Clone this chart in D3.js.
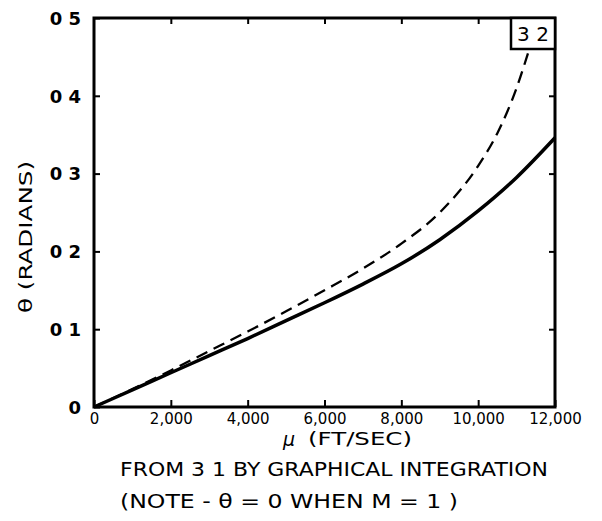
<!DOCTYPE html>
<html>
<head>
<meta charset="utf-8">
<script src="https://cdn.jsdelivr.net/npm/d3@7"></script>
<style>
body { margin: 0; background: #fff; }
svg text { font-family: "DejaVu Sans", sans-serif; fill: #000; }
</style>
</head>
<body>
<svg id="chart" width="602" height="521"></svg>
<script>
// velocity u (ft/sec) and theta (radians)
var solidU = [0, 1000, 2000, 3000, 4000, 5000, 6000, 7000, 8000, 9000, 10000, 11000, 12000];
var solidTheta = [0, 0.022, 0.044, 0.066, 0.088, 0.111, 0.134, 0.158, 0.184, 0.215, 0.252, 0.295, 0.346];

var dashU = [0, 1000, 2000, 3000, 4000, 5000, 6000, 7000, 8000, 9000, 10000, 10500, 11000, 11330];
var dashTheta = [0, 0.023, 0.047, 0.072, 0.097, 0.123, 0.150, 0.178, 0.210, 0.250, 0.310, 0.352, 0.41, 0.46];

var xTicks = [0, 2000, 4000, 6000, 8000, 10000, 12000];
var yTicks = [0, 0.1, 0.2, 0.3, 0.4, 0.5];

var svg = d3.select("#chart");
var plotL = 94, plotR = 555, plotT = 18, plotB = 407;

var x = d3.scaleLinear().domain([0, 12000]).range([plotL, plotR]);
var y = d3.scaleLinear().domain([0, 0.5]).range([plotB, plotT]);

var yFmt = function(d){ return d === 0 ? "0" : "0 " + Math.round(d * 10); };

// left axis
var gl = svg.append("g").attr("transform", "translate(" + plotL + ",0)")
  .call(d3.axisLeft(y).tickValues(yTicks).tickSize(-6).tickPadding(13).tickFormat(yFmt));
gl.selectAll("text").style("font-size", "18px").style("font-weight", "bold").attr("dy", "0.35em");
// right axis (ticks only)
svg.append("g").attr("transform", "translate(" + plotR + ",0)")
  .call(d3.axisRight(y).tickValues(yTicks.slice(1, 5)).tickSize(-6).tickFormat(""));
// bottom axis
var gb = svg.append("g").attr("transform", "translate(0," + plotB + ")")
  .call(d3.axisBottom(x).tickValues(xTicks).tickSize(-7).tickPadding(6).tickFormat(d3.format(",")));
gb.selectAll("text").style("font-size", "15px");
// top axis (ticks only)
svg.append("g").attr("transform", "translate(0," + plotT + ")")
  .call(d3.axisTop(x).tickValues(xTicks.slice(1, 6)).tickSize(-6).tickFormat(""));

svg.selectAll(".domain").remove();
svg.selectAll(".tick line").attr("stroke", "#000").attr("stroke-width", 2);

// frame
svg.append("rect")
  .attr("x", plotL).attr("y", plotT)
  .attr("width", plotR - plotL).attr("height", plotB - plotT)
  .attr("fill", "none").attr("stroke", "#000").attr("stroke-width", 3);

var line = d3.line().x(function(d){ return x(d[0]); }).y(function(d){ return y(d[1]); })
  .curve(d3.curveMonotoneX);

var solidPts = solidU.map(function(u, i){ return [u, solidTheta[i]]; });
var dashPts = dashU.map(function(u, i){ return [u, dashTheta[i]]; });

svg.append("path").datum(dashPts)
  .attr("d", line).attr("fill", "none").attr("stroke", "#000")
  .attr("stroke-width", 2.3).attr("stroke-dasharray", "12,7");

svg.append("path").datum(solidPts)
  .attr("d", line).attr("fill", "none").attr("stroke", "#000")
  .attr("stroke-width", 3.5);

// figure number box
svg.append("rect")
  .attr("x", 511).attr("y", plotT).attr("width", plotR - 511).attr("height", 31)
  .attr("fill", "#fff").attr("stroke", "#000").attr("stroke-width", 2.5);
svg.append("text").attr("x", 533).attr("y", 41).attr("text-anchor", "middle")
  .style("font-size", "20px").text("3 2");

// axis titles
svg.append("text")
  .attr("transform", "translate(32,237) rotate(-90)")
  .attr("text-anchor", "middle").style("font-size", "17px")
  .attr("textLength", 152).attr("lengthAdjust", "spacingAndGlyphs")
  .text("\u03B8  (RADIANS)");

svg.append("text").attr("x", 283).attr("y", 446)
  .style("font-size", "19px").style("font-style", "italic").text("\u03BC");
svg.append("text").attr("x", 308).attr("y", 445)
  .attr("textLength", 104).attr("lengthAdjust", "spacingAndGlyphs")
  .style("font-size", "17px").text("(FT/SEC)");

// notes
svg.append("text").attr("x", 120).attr("y", 476)
  .attr("textLength", 428).attr("lengthAdjust", "spacingAndGlyphs")
  .style("font-size", "20px").text("FROM 3 1 BY GRAPHICAL INTEGRATION");
svg.append("text").attr("x", 120).attr("y", 508)
  .attr("textLength", 338).attr("lengthAdjust", "spacingAndGlyphs")
  .style("font-size", "20px").text("(NOTE  -  \u03B8 = 0  WHEN  M = 1 )");
</script>
</body>
</html>
